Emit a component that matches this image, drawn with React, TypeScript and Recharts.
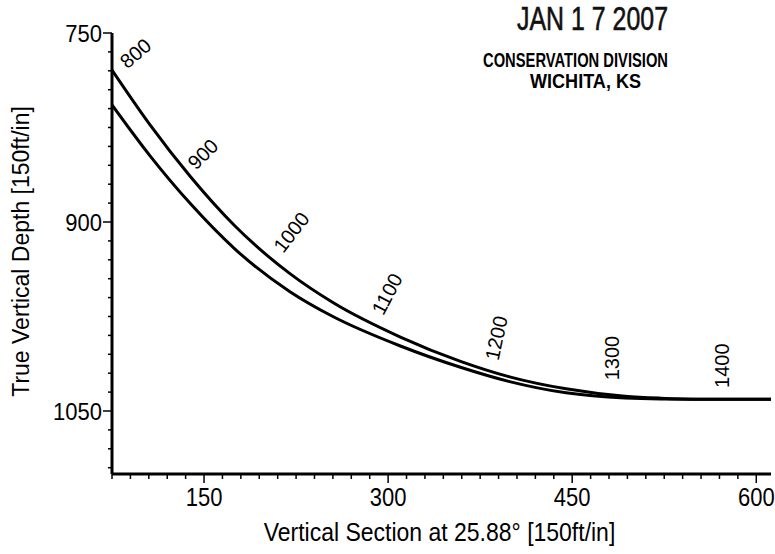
import React from 'react';
import { ComposedChart, Line, Scatter, XAxis, YAxis } from 'recharts';

// well paths: vertical section (ft) vs true vertical depth (ft)
const upperVs = [75, 106, 139, 175, 220, 255, 310, 359, 399, 445, 493, 522, 554, 587, 612];
const upperTvd = [779.4, 822.9, 864.1, 903, 941, 963.9, 991.3, 1010.6, 1022.9, 1032.4, 1038.3, 1039.8, 1040.6, 1040.7, 1040.7];
const lowerVs = [75, 106, 139, 175, 220, 255, 310, 359, 399, 445, 493, 522, 554, 612];
const lowerTvd = [807.1, 847.5, 885.6, 921.3, 955.3, 975, 998.4, 1015.3, 1026.7, 1035.6, 1039.7, 1040.5, 1040.7, 1040.7];

// measured depth marks written along the upper path
const mdLabels = ['800', '900', '1000', '1100', '1200', '1300', '1400'];
const mdVs = [94, 149, 221, 299, 388, 482, 572];
const mdTvd = [766, 846, 908, 957, 992, 1008, 1014];

// axis labels
const xTickLabels = [150, 300, 450, 600];
const yTickLabels = [750, 900, 1050];

const MD_ANGLES = [-40, -45, -52, -62, -78, -90, -90];
const FONT = '"Liberation Sans", Arial, Helvetica, sans-serif';

const upperPath = upperVs.map((v, i) => ({ vs: v, tvd: upperTvd[i] }));
const lowerPath = lowerVs.map((v, i) => ({ vs: v, tvd: lowerTvd[i] }));
const mdPoints = mdLabels.map((t, i) => ({ vs: mdVs[i], tvd: mdTvd[i], label: t, idx: i }));

const xTicks: number[] = [];
for (let v = 75; v <= 600; v += 15) xTicks.push(v);
const yTicks: number[] = [];
for (let v = 750; v <= 1095; v += 15) yTicks.push(v);

const XTick = (props: any) => {
  const { x, y, payload } = props;
  const major = xTickLabels.includes(payload.value);
  return (
    <g>
      <line x1={x} x2={x} y1={y} y2={y + (major ? 9 : 5)} stroke="#000" strokeWidth={1.5} />
      {major && (
        <text
          transform={`translate(${x}, ${y + 32}) scale(1, 1.16)`}
          textAnchor="middle"
          fontFamily={FONT}
          fontSize={22}
          fill="#000"
        >
          {payload.value}
        </text>
      )}
    </g>
  );
};

const YTick = (props: any) => {
  const { x, y, payload } = props;
  const major = yTickLabels.includes(payload.value);
  return (
    <g>
      <line x1={x - (major ? 9 : 4)} x2={x} y1={y} y2={y} stroke="#000" strokeWidth={1.5} />
      {major && (
        <text
          transform={`translate(${x - 10}, ${y}) scale(1, 1.08)`}
          dy="0.36em"
          textAnchor="end"
          fontFamily={FONT}
          fontSize={22}
          fill="#000"
        >
          {payload.value}
        </text>
      )}
    </g>
  );
};

const MdText = (props: any) => {
  const { cx, cy, payload } = props;
  if (cx == null || cy == null) return null;
  const a = MD_ANGLES[payload.idx];
  return (
    <text
      x={cx}
      y={cy}
      dy="0.36em"
      textAnchor="middle"
      transform={`rotate(${a}, ${cx}, ${cy})`}
      fontFamily={FONT}
      fontSize={20}
      fill="#000"
    >
      {payload.label}
    </text>
  );
};

const App: React.FC = () => {
  return (
    <div style={{ position: 'absolute', left: 0, top: 0, width: 775, height: 554, background: '#fff' }}>
      <ComposedChart width={775} height={554} margin={{ top: 33, right: 4, bottom: 0, left: 0 }}>
        <XAxis
          type="number"
          dataKey="vs"
          domain={[75, 612]}
          allowDataOverflow
          ticks={xTicks}
          interval={0}
          height={80}
          tickSize={0}
          tickMargin={0}
          tick={<XTick />}
          axisLine={{ stroke: '#000', strokeWidth: 3 }}
          label={{
            content: (p: any) => {
              const vb = p.viewBox;
              return (
                <text
                  transform={`translate(${vb.x + vb.width / 2 - 2}, ${vb.y + 67}) scale(1, 1.15)`}
                  textAnchor="middle"
                  fontFamily={FONT}
                  fontSize={23}
                  fill="#000"
                >
                  Vertical Section at 25.88° [150ft/in]
                </text>
              );
            },
          }}
        />
        <YAxis
          type="number"
          domain={[750, 1100]}
          reversed
          allowDataOverflow
          ticks={yTicks}
          interval={0}
          width={112}
          tickSize={0}
          tickMargin={0}
          tick={<YTick />}
          axisLine={{ stroke: '#000', strokeWidth: 3 }}
          label={{
            content: (p: any) => {
              const vb = p.viewBox;
              const cx = vb.x + 21;
              const cy = vb.y + vb.height / 2 - 2;
              return (
                <text x={cx} y={cy} dy="0.36em" textAnchor="middle" transform={`rotate(-90, ${cx}, ${cy})`} fontFamily={FONT} fontSize={23} fill="#000">
                  True Vertical Depth [150ft/in]
                </text>
              );
            },
          }}
        />
        <Line data={lowerPath} dataKey="tvd" type="monotoneX" stroke="#000" strokeWidth={3} dot={false} activeDot={false} isAnimationActive={false} />
        <Line data={upperPath} dataKey="tvd" type="monotoneX" stroke="#000" strokeWidth={3} dot={false} activeDot={false} isAnimationActive={false} />
        <Scatter data={mdPoints} dataKey="tvd" shape={<MdText />} isAnimationActive={false} />
      </ComposedChart>
      <svg width={775} height={554} style={{ position: 'absolute', left: 0, top: 0, pointerEvents: 'none' }}>
        <text x={517} y={30} textLength={151} lengthAdjust="spacingAndGlyphs" fontFamily={FONT} fontSize={34} fill="#111" stroke="#111" strokeWidth={0.6}>
          JAN 1 7 2007
        </text>
        <text x={483} y={67} textLength={185} lengthAdjust="spacingAndGlyphs" fontFamily={FONT} fontWeight="bold" fontSize={20} fill="#000">
          CONSERVATION DIVISION
        </text>
        <text x={530} y={88} textLength={111} lengthAdjust="spacingAndGlyphs" fontFamily={FONT} fontWeight="bold" fontSize={20} fill="#000">
          WICHITA, KS
        </text>
      </svg>
    </div>
  );
};

export default App;
